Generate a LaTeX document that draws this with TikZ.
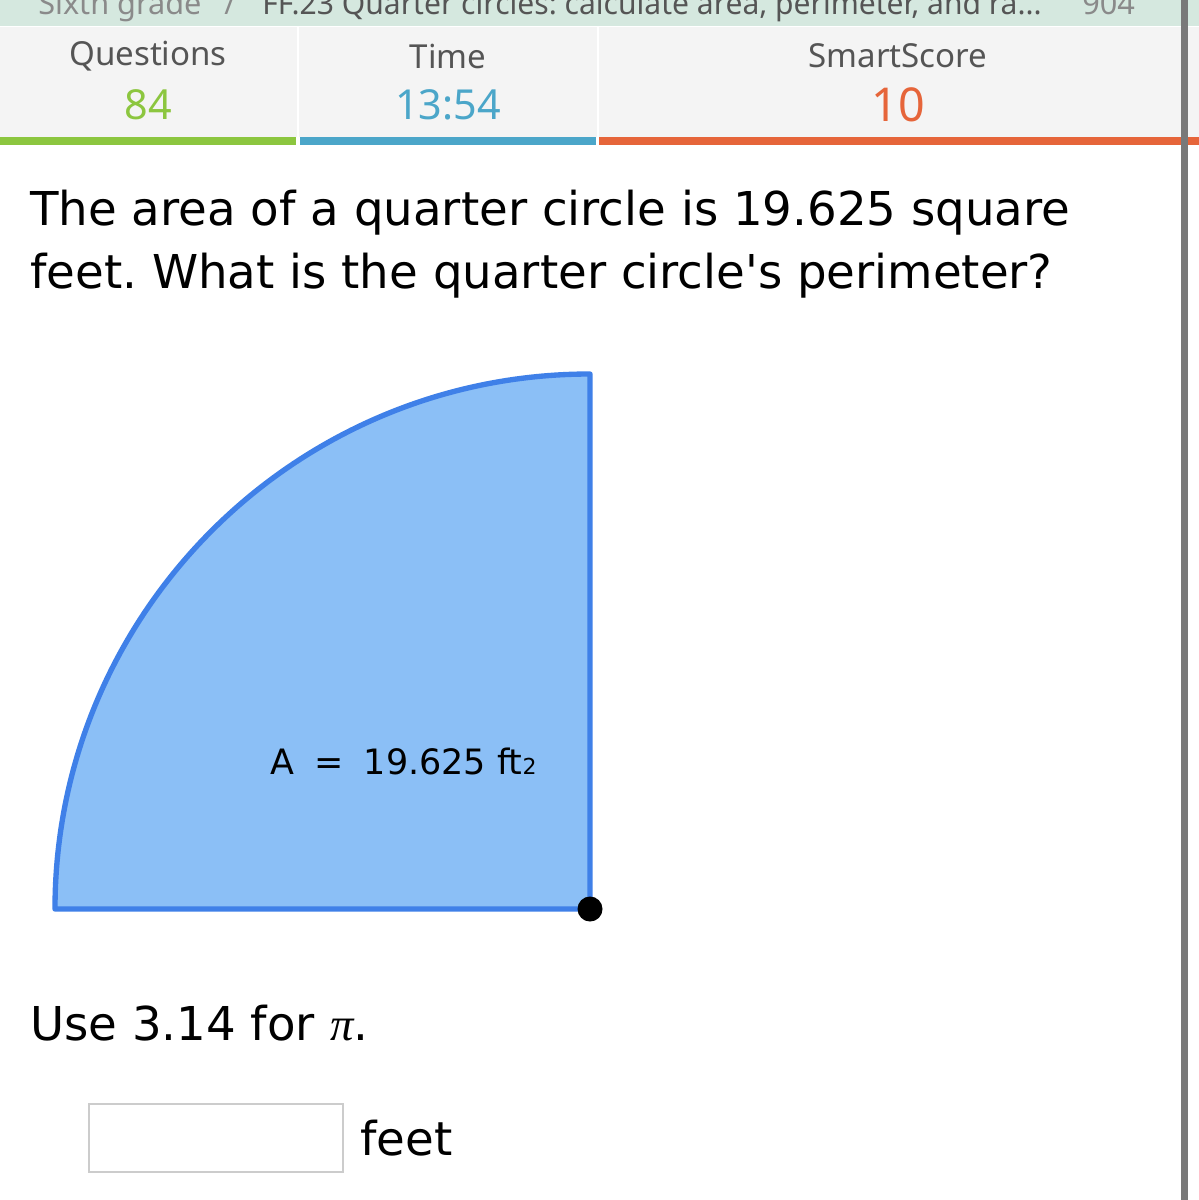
\documentclass[tikz,border=0pt]{standalone}
\usepackage{fontspec}
\setmainfont{DejaVu Sans}
\newfontfamily\hdrfont{Noto Sans}
\newfontfamily\pifont{Liberation Serif}
\definecolor{mintbar}{HTML}{D5E8DF}
\definecolor{panelgray}{HTML}{F4F4F4}
\definecolor{hdrgray}{HTML}{555555}
\definecolor{crumbgray}{HTML}{8A8A8A}
\definecolor{qgreen}{HTML}{8CC63F}
\definecolor{tblue}{HTML}{4BA6C9}
\definecolor{sorange}{HTML}{E6653A}
\definecolor{wedgefill}{HTML}{8BBFF6}
\definecolor{wedgeline}{HTML}{3F80E8}
\definecolor{boxgray}{HTML}{CCCCCC}
\newcommand{\qsize}{\fontsize{35}{40}\selectfont}
\tikzset{
  hdr/.style={font=\hdrfont\fontsize{24.8}{28}\selectfont,text=hdrgray},
  crumb/.style={font=\hdrfont\fontsize{23}{26}\selectfont,anchor=base west,inner sep=0pt},
  stat/.style={font=\hdrfont\fontsize{31}{34}\selectfont},
  qtext/.style={font=\qsize,anchor=base west,inner sep=0pt},
}

\begin{document}
\frenchspacing
\begin{tikzpicture}[x=0.75pt,y=-0.75pt]
    \fill[white] (0,0) rectangle (1199,1200);
    \useasboundingbox (0,0) rectangle (1199,1200);
    % breadcrumb strip, cut off at the top
    \fill[mintbar] (0,0) rectangle (1199,26);
    \begin{scope}
      \clip (0,0) rectangle (1199,26);
      \node[crumb,text=crumbgray] (grade) at (38,14) {Sixth grade};
      \node[crumb,text=crumbgray,anchor=base] (sep) at (230,14) {/};
      \node[crumb,text=hdrgray,xscale=0.98] (skill) at (262,14) {FF.23 Quarter circles: calculate area, perimeter, and ra...};
      \node[crumb,text=crumbgray] (score) at (1082,14) {904};
    \end{scope}
    % stats panel
    \fill[panelgray] (0,27) rectangle (1199,137);
    \draw[white,line width=1.5pt] (298,27) -- (298,145);
    \draw[white,line width=1.5pt] (598,27) -- (598,145);
    \fill[qgreen] (0,137) rectangle (296,145);
    \fill[tblue] (300,137) rectangle (596,145);
    \fill[sorange] (599,137) rectangle (1199,145);
    \node[hdr] (quest) at (148,56) {Questions};
    \node[hdr] (time) at (448,56) {Time};
    \node[hdr] (smart) at (898,56) {SmartScore};
    \node[stat,text=qgreen] (qnum) at (148,105) {84};
    \node[stat,text=tblue] (tnum) at (448,105) {13:54};
    \node[stat,text=sorange,font=\hdrfont\fontsize{35}{38}\selectfont] (snum) at (898,105) {10};
    % question
    \node[qtext] (line1) at (30,225) {The area of a quarter circle is 19.625 square};
    \node[qtext] (line2) at (30,288) {feet. What is the quarter circle\textquotesingle s perimeter?};
    % quarter circle
    \coordinate (O) at (590,909);
    \coordinate (L) at (55,909);
    \filldraw[fill=wedgefill,draw=wedgeline,line width=4pt,line join=round]
      (O) -- (L) arc[start angle=180,end angle=270,radius=535] -- cycle;
    \fill[black] (O) circle (12.5);
    \node[font=\fontsize{26.2}{28}\selectfont,anchor=base west,inner sep=0pt] (area) at (270,774)
      {A\hspace{0.58em}=\hspace{0.58em}19.625 ft{\fontsize{16.5}{18}\selectfont 2}};
    % answer
    \node[qtext] (hint) at (30,1040) {Use 3.14 for {\pifont\itshape π}.};
    \node[draw=boxgray,line width=1.5pt,minimum width=190.5pt,minimum height=51pt,inner sep=0pt,anchor=north west] (ans) at (88,1103) {};
    \node[qtext] (unit) at (360,1155) {feet};
    % scroll bar
    \fill[gray!95!black] (1181,0) rectangle (1188,1200);
\end{tikzpicture}
\end{document}
